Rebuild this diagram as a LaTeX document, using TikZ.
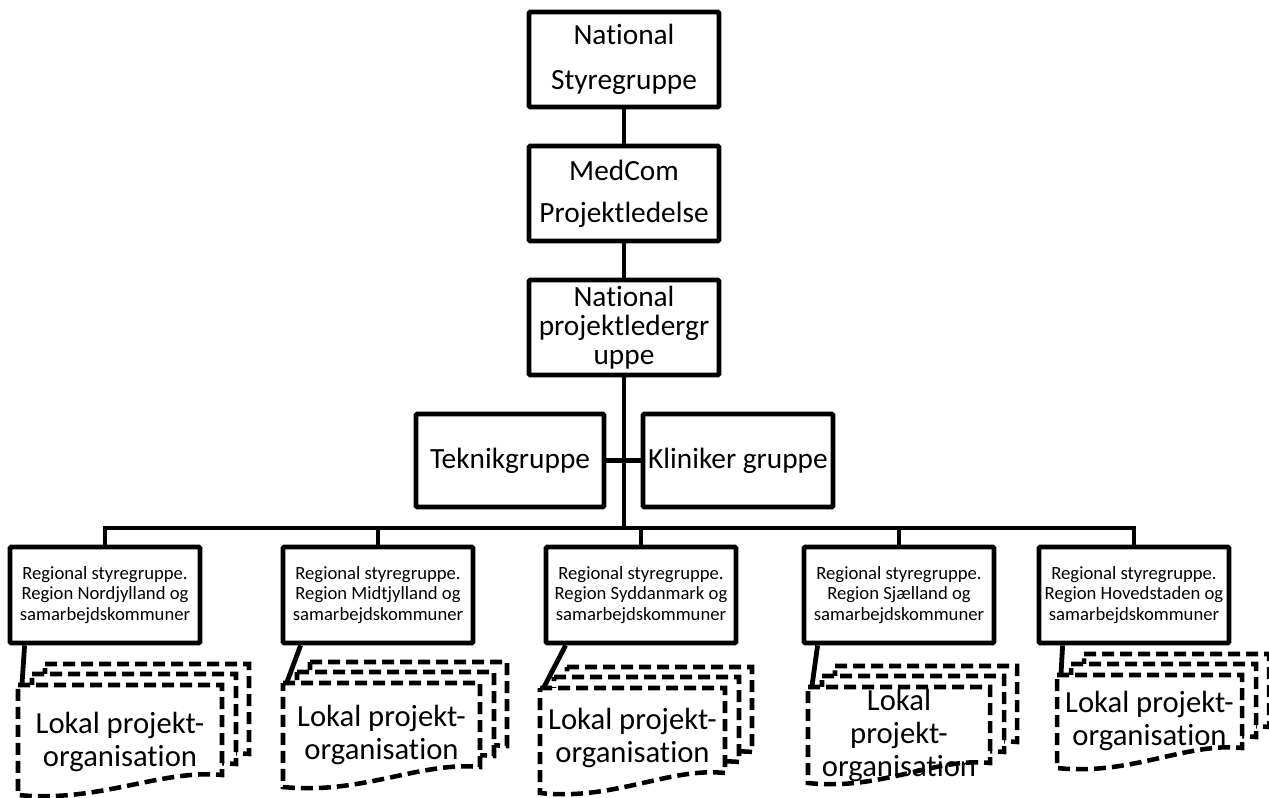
\documentclass[tikz,border=0pt]{standalone}
\usepackage{fontspec}
\setmainfont{Carlito}[Ligatures=NoCommon]

\tikzset{
  box/.style={draw, line width=3.6pt, rounded corners=1pt, inner sep=0pt, align=center},
  bigbox/.style={box, minimum width=142.5pt, minimum height=71.25pt},
  regbox/.style={box, minimum width=142.5pt, minimum height=72pt,
    font=\fontsize{14}{15.4}\selectfont},
  link/.style={line width=3.6pt},
  docline/.style={line width=3.4pt, dash pattern=on 9pt off 4.5pt, fill=white},
  doctext/.style={align=center, inner sep=0pt, font=\fontsize{23}{24.75}\selectfont}
}

% document shape with a wavy bottom: left, top, right, bottom
\newcommand{\lokaldoc}[4]{(#1,#2) -- (#3,#2) -- (#3,#4-20)
  .. controls ({#3-0.3*(#3-#1)},#4-26) and ({#1+0.4*(#3-#1)},#4+8) .. (#1,#4) -- cycle}

\begin{document}
\begin{tikzpicture}[x=0.75pt,y=-0.75pt]
  \useasboundingbox (0,0) rectangle (1269,798);

  \node[bigbox, font=\fontsize{22}{33.75}\selectfont] (stg) at (624,59.5) {National\\Styregruppe};
  \node[bigbox, font=\fontsize{22}{31.5}\selectfont] (medcom) at (624,193.5) {MedCom\\Projektledelse};
  \node[bigbox, font=\fontsize{22}{21.75}\selectfont] (nplg) at (624,327.5) {National\\projektledergr\\uppe};
  \node[bigbox, minimum width=141pt, minimum height=69.75pt, font=\fontsize{22}{26}\selectfont]
    (tek) at (510,460.5) {Teknikgruppe};
  \node[bigbox, minimum height=69.75pt, font=\fontsize{22}{26}\selectfont]
    (klin) at (738,460.5) {Kliniker gruppe};

  \node[regbox] (r1) at (105,595) {Regional styregruppe.\\Region Nordjylland og\\samarbejdskommuner};
  \node[regbox] (r2) at (378,595) {Regional styregruppe.\\Region Midtjylland og\\samarbejdskommuner};
  \node[regbox] (r3) at (641,595) {Regional styregruppe.\\Region Syddanmark og\\samarbejdskommuner};
  \node[regbox] (r4) at (899,595) {Regional styregruppe.\\Region Sjælland og\\samarbejdskommuner};
  \node[regbox] (r5) at (1134,595) {Regional styregruppe.\\Region Hovedstaden og\\samarbejdskommuner};

  \coordinate (hub) at (624,528);
  \draw[link] (stg) -- (medcom);
  \draw[link] (medcom) -- (nplg);
  \draw[link] (nplg) -- (hub);
  \draw[link] (tek) -- (klin);
  \draw[link] (r1.north) |- (hub) -| (r5.north);
  \foreach \n in {2,3,4}
    \draw[link] (r\n.north) -- (r\n.north |- hub);

  % local project organisations
  \foreach \n/\l/\t/\r/\b/\ty/\s/\txt in {
      1/18/685/222/795/742/17/{Lokal projekt-\\organisation},
      2/283/683/480/787/735/20/{Lokal projekt-\\organisation},
      3/540/688/725/793/738/22/{Lokal projekt-\\organisation},
      4/808/687/990/783/735/16/{Lokal\\projekt-\\organisation},
      5/1057/675/1242/768/721/26/{Lokal projekt-\\organisation}} {
    \filldraw[docline] \lokaldoc{\l+27}{\t-21}{\r+27}{\b-21};
    \filldraw[docline] \lokaldoc{\l+14}{\t-11}{\r+14}{\b-11};
    \filldraw[docline] \lokaldoc{\l}{\t}{\r}{\b};
    \node[doctext] (lok\n) at ({(\l+\r)/2},\ty) {\txt};
    \coordinate (top\n) at (\l+4,\t-1);
    \draw[link] (r\n.south west) ++(\s,0) -- (top\n);
  }
\end{tikzpicture}
\end{document}
